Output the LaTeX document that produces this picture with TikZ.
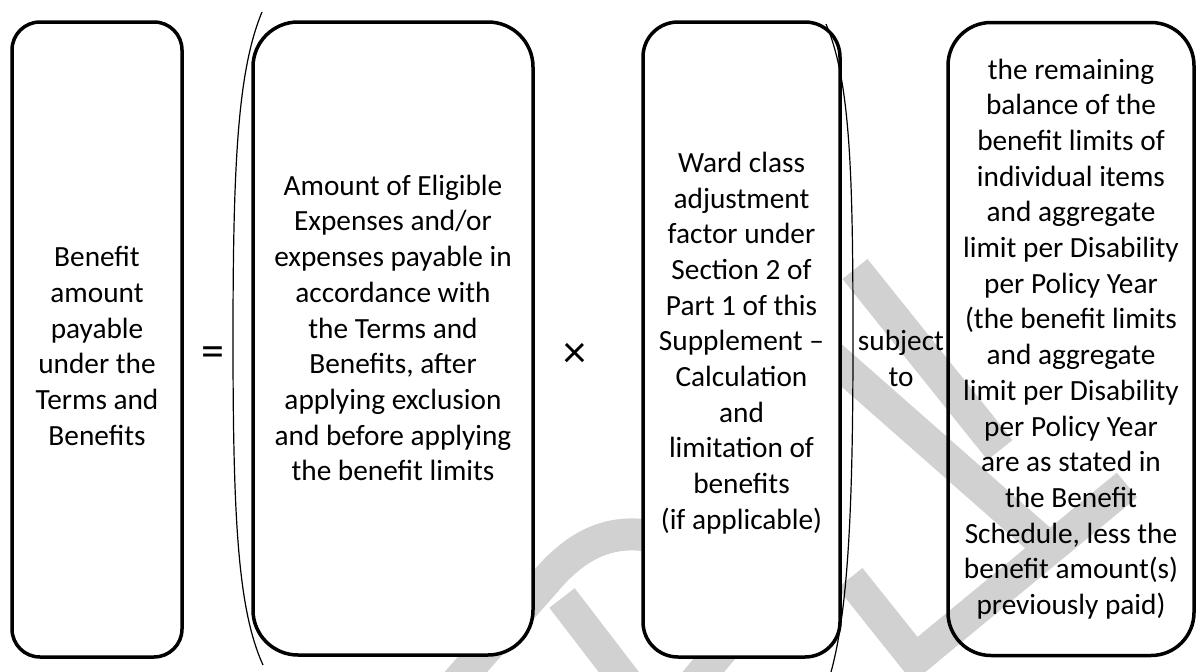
\documentclass[tikz,border=0pt]{standalone}
\usepackage{fontspec}
\setmainfont{Carlito}
\usepackage{tikz}

\begin{document}
\begin{tikzpicture}[x=1pt, y=-1pt,
  every node/.style={font=\fontsize{29.3}{35.7}\selectfont, align=center, inner sep=0pt},
  card/.style={draw, line width=3.5pt},
  sign/.style={font=\fontsize{46}{50}\selectfont},
  wmark/.style={draw=black!18, line width=32pt}]
\useasboundingbox (0,0) rectangle (1197,672);

% watermark, behind the boxes
\draw[wmark] (450,690) -- (545,582) .. controls (590,528) and (635,525) .. (690,548);
\draw[wmark] (562,598) -- (628,684);
\draw[wmark] (680,700) -- (780,580);
\draw[wmark] (855,269) -- (1000,450);
\draw[wmark] (790,320) -- (1040,540);
\draw[wmark] (850,578) -- (925,672);
\draw[wmark] (905,668) -- (1127,485);

% left side
\node[card, fill=white, minimum width=170, minimum height=635, rounded corners=28] (payable) at (97,339.5) {};
\node (paytext) at (97,346) {Benefit\\amount\\payable\\under the\\Terms and\\Benefits};
\node[sign] (equals) at (213,357) {=};

% eligible expenses
\node[card, fill=white, minimum width=280, minimum height=633, rounded corners=45] (eligible) at (393,338.5) {};
\node (eligtext) at (393,328) {Amount of Eligible\\Expenses and/or\\expenses payable in\\accordance with\\the Terms and\\Benefits, after\\applying exclusion\\and before applying\\the benefit limits};
\node[sign] (times) at (575,355) {×};

% ward class factor
\node[card, fill=white, minimum width=197, minimum height=635, rounded corners=35] (ward) at (741.5,339.5) {};
\node (wardtext) at (741.5,343) {Ward class\\adjustment\\factor under\\Section 2 of\\Part 1 of this\\Supplement –\\Calculation\\and\\limitation of\\benefits\\(if applicable)};

% brackets
\draw[line width=1.2pt] (262,12) .. controls (238,70) and (233,160) .. (233,339) .. controls (233,520) and (238,610) .. (263,665);
\draw[line width=1.2pt] (826,24) .. controls (850,80) and (853,170) .. (853,339) .. controls (853,510) and (848,610) .. (831,672);

% limits
\node (subject) at (901,358.5) {subject\\to};
\node[card, minimum width=246, minimum height=633, rounded corners=43] (balance) at (1071,339)
  {the remaining\\balance of the\\benefit limits of\\individual items\\and aggregate\\limit per Disability\\per Policy Year\\(the benefit limits\\and aggregate\\limit per Disability\\per Policy Year\\are as stated in\\the Benefit\\Schedule, less the\\benefit amount(s)\\previously paid)};
\end{tikzpicture}
\end{document}
